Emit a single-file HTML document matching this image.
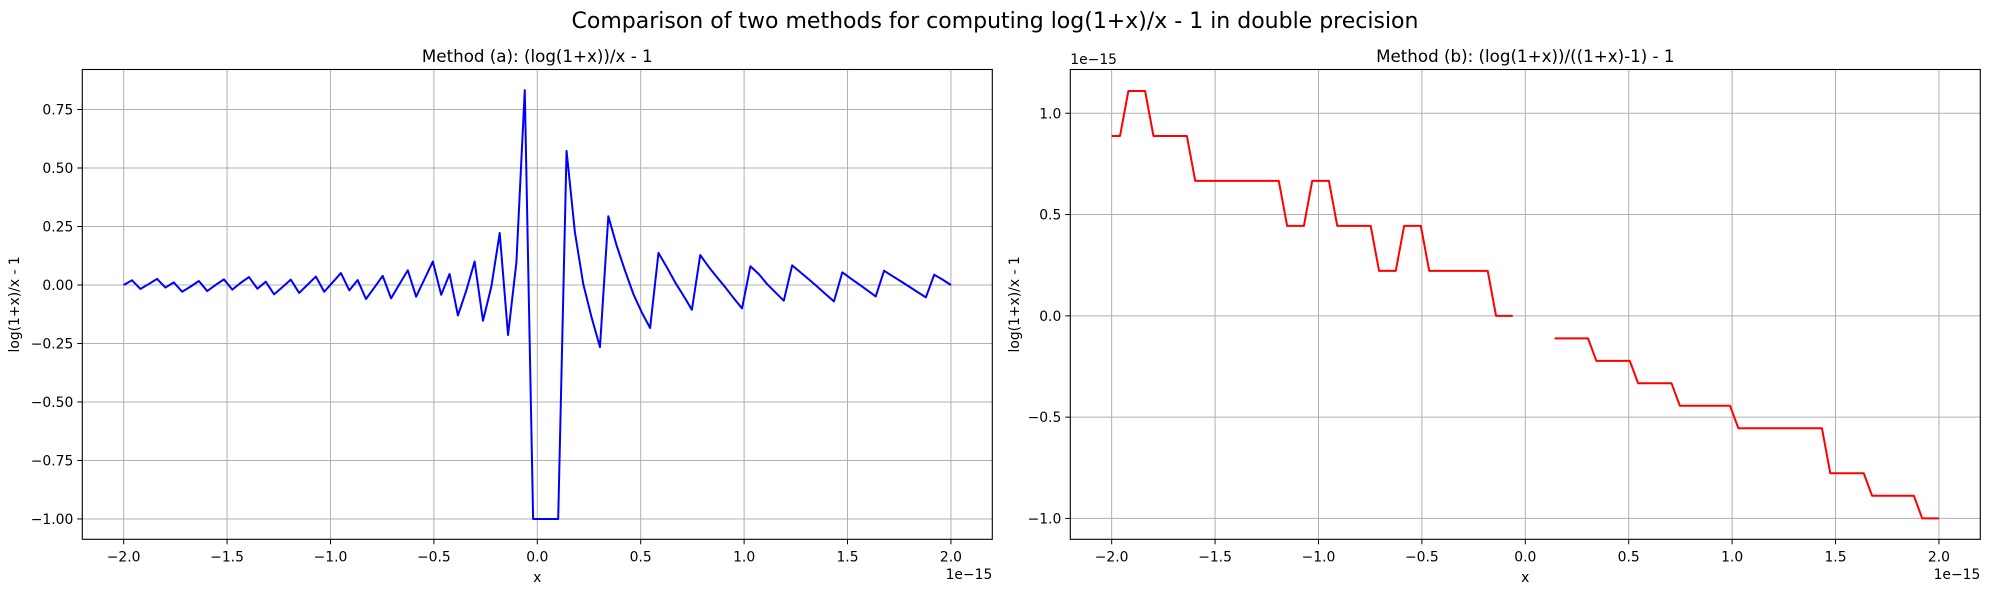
<!DOCTYPE html>
<html><head><meta charset="utf-8"><style>
body{margin:0;background:#fff;}
svg text{font-family:"DejaVu Sans","Liberation Sans",sans-serif;fill:#000;}
</style></head><body>
<svg id="fig" width="1990" height="592" xmlns="http://www.w3.org/2000/svg">
<rect width="1990" height="592" fill="#fff"/>
<text x="995" y="28" font-size="22" text-anchor="middle">Comparison of two methods for computing log(1+x)/x - 1 in double precision</text>
</svg>
<script>
const xTicks = [-2.0,-1.5,-1.0,-0.5,0.0,0.5,1.0,1.5,2.0];
const xTickLabels = ["\u22122.0","\u22121.5","\u22121.0","\u22120.5","0.0","0.5","1.0","1.5","2.0"];
const yTicksA = [0.75,0.5,0.25,0,-0.25,-0.5,-0.75,-1.0];
const yTickLabelsA = ["0.75","0.50","0.25","0.00","\u22120.25","\u22120.50","\u22120.75","\u22121.00"];
const yTicksB = [1.0,0.5,0.0,-0.5,-1.0];
const yTickLabelsB = ["1.0","0.5","0.0","\u22120.5","\u22121.0"];
const nPoints = 100;
const xStart = -2.0, xEnd = 2.0;
const seriesA = [0,0.02,-0.017,0.004,0.026,-0.011,0.011,-0.029,-0.007,0.017,
-0.026,0,0.024,-0.02,0.009,0.034,-0.016,0.014,-0.04,-0.009,
0.023,-0.034,0.001,0.036,-0.029,0.011,0.051,-0.023,0.021,-0.06,
-0.011,0.039,-0.057,0.003,0.063,-0.05,0.025,0.1,-0.042,0.047,
-0.13,-0.024,0.1,-0.153,-0.007,0.222,-0.214,0.097,0.833,-1,
-1,-1,-1,0.573,0.226,0.004,-0.139,-0.265,0.294,0.168,
0.061,-0.039,-0.117,-0.184,0.137,0.076,0.011,-0.046,-0.106,0.128,
0.078,0.033,-0.01,-0.056,-0.1,0.08,0.047,0.004,-0.032,-0.067,
0.084,0.054,0.024,-0.007,-0.039,-0.07,0.054,0.028,0.003,-0.023,
-0.049,0.061,0.038,0.016,-0.007,-0.03,-0.053,0.044,0.023,0];
const seriesB = [0.888,0.888,1.11,1.11,1.11,0.888,0.888,0.888,0.888,0.888,
0.666,0.666,0.666,0.666,0.666,0.666,0.666,0.666,0.666,0.666,
0.666,0.444,0.444,0.444,0.666,0.666,0.666,0.444,0.444,0.444,
0.444,0.444,0.222,0.222,0.222,0.444,0.444,0.444,0.222,0.222,
0.222,0.222,0.222,0.222,0.222,0.222,0,0,0,null,
null,null,null,-0.111,-0.111,-0.111,-0.111,-0.111,-0.222,-0.222,
-0.222,-0.222,-0.222,-0.333,-0.333,-0.333,-0.333,-0.333,-0.444,-0.444,
-0.444,-0.444,-0.444,-0.444,-0.444,-0.555,-0.555,-0.555,-0.555,-0.555,
-0.555,-0.555,-0.555,-0.555,-0.555,-0.555,-0.777,-0.777,-0.777,-0.777,
-0.777,-0.888,-0.888,-0.888,-0.888,-0.888,-0.888,-1.0,-1.0,-1.0];

const NS="http://www.w3.org/2000/svg";
const svg=document.getElementById('fig');
function mk(tag,attrs,parent){const e=document.createElementNS(NS,tag);for(const k in attrs)e.setAttribute(k,attrs[k]);(parent||svg).appendChild(e);return e;}

function drawPanel(o){
  const g=mk('g',{});
  
  
  const L=o.left,R=o.right,T=69.5,B=539.3;
  const xmin=-2.2,xmax=2.2;
  const sx=v=>L+(v-xmin)/(xmax-xmin)*(R-L);
  const sy=v=>B-(v-o.ymin)/(o.ymax-o.ymin)*(B-T);
  xTicks.forEach(t=>{const l=mk('line',{x1:sx(t),x2:sx(t),y1:T,y2:B,stroke:'#b0b0b0','stroke-width':1},g);
    
    });
  o.yTicks.forEach(t=>{const l=mk('line',{x1:L,x2:R,y1:sy(t),y2:sy(t),stroke:'#b0b0b0','stroke-width':1},g);
    
    });
  const dx=(xEnd-xStart)/(nPoints-1);
  let d='',pen=false;
  o.values.forEach((v,i)=>{
    if(v===null){pen=false;return;}
    d+=(pen?'L':'M')+sx(xStart+i*dx).toFixed(2)+' '+sy(v).toFixed(2)+' ';pen=true;});
  const p=mk('path',{d:d,fill:'none',stroke:o.color,'stroke-width':2,'stroke-linejoin':'round'},g);
  
  
  const fr=mk('rect',{x:L,y:T,width:R-L,height:B-T,fill:'none',stroke:'#000','stroke-width':1.1},g);
  
  
  xTicks.forEach((t,i)=>{mk('line',{x1:sx(t),x2:sx(t),y1:B,y2:B+5,stroke:'#000','stroke-width':1},g);
    const tx=mk('text',{x:sx(t),y:B+22,'font-size':13.9,'text-anchor':'middle'},g);tx.textContent=xTickLabels[i];
    
    });
  o.yTicks.forEach((t,i)=>{mk('line',{x1:L-5,x2:L,y1:sy(t),y2:sy(t),stroke:'#000','stroke-width':1},g);
    const tx=mk('text',{x:L-9,y:sy(t)+5,'font-size':13.9,'text-anchor':'end'},g);tx.textContent=o.yLabels[i];
    
    });
  const off=mk('text',{x:R,y:579,'font-size':13.9,'text-anchor':'end'},g);off.textContent='1e\u221215';
  
  
  if(o.yOffset){const yo=mk('text',{x:L,y:64,'font-size':13.9,'text-anchor':'start'},g);yo.textContent='1e\u221215';
    
    }
  const xl=mk('text',{x:(L+R)/2,y:582,'font-size':13.9,'text-anchor':'middle'},g);xl.textContent='x';
  
  
  const yl=mk('text',{x:0,y:0,'font-size':13.9,'text-anchor':'middle',transform:`translate(${o.ylx},${(T+B)/2}) rotate(-90)`},g);yl.textContent='log(1+x)/x - 1';
  
  
  const tt=mk('text',{x:(L+R)/2,y:62,'font-size':16.7,'text-anchor':'middle'},g);tt.textContent=o.title;
  
  
}
drawPanel({name:'panel-method-a',left:82.3,right:992.3,ymin:-1.087,ymax:0.921,yTicks:yTicksA,yLabels:yTickLabelsA,values:seriesA,color:'#0000ff',lineName:'method-a-line',title:'Method (a): (log(1+x))/x - 1',ylx:19,yOffset:false});
drawPanel({name:'panel-method-b',left:1070.3,right:1980.3,ymin:-1.103,ymax:1.216,yTicks:yTicksB,yLabels:yTickLabelsB,values:seriesB,color:'#ff0000',lineName:'method-b-line',title:'Method (b): (log(1+x))/((1+x)-1) - 1',ylx:1019,yOffset:true});
</script>
</body></html>
